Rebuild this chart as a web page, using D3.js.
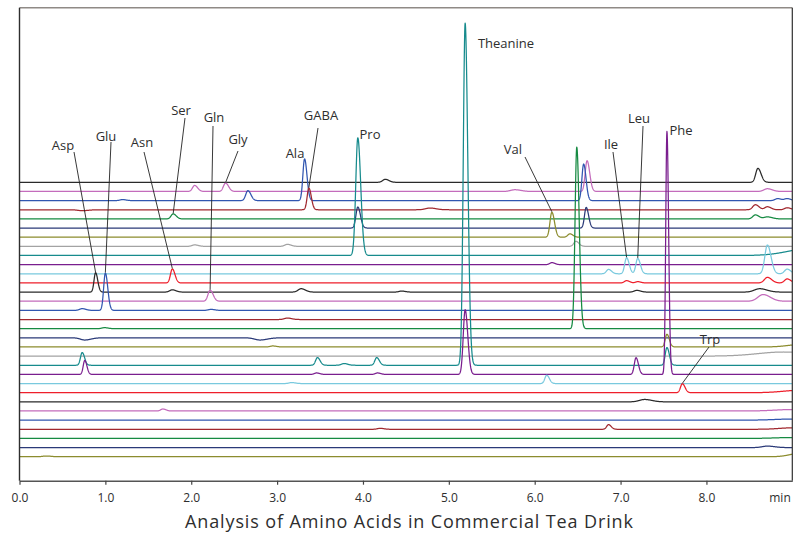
<!DOCTYPE html>
<html>
<head>
<meta charset="utf-8">
<script src="https://cdn.jsdelivr.net/npm/d3@7"></script>
<style>
  body { margin: 0; background: #fff; }
  svg { display: block; }
  text { font-family: "Open Sans", "Noto Sans", sans-serif; fill: #2e2e2e; }
</style>
</head>
<body>
<svg id="chart" width="793" height="537"></svg>
<script>
// Retention-time axis
const timeTicks = [0, 1, 2, 3, 4, 5, 6, 7, 8];
const timeUnit = "min";
const chartTitle = "Analysis of Amino Acids in Commercial Tea Drink";

// Each chromatogram is stacked 10 signal units above the next one
const traceStep = 10;

// Line colours, repeating down the stack
const palette = ["#2a2a2a", "#c46cbc", "#3156b0", "#a1282f", "#168a42", "#2b3a78",
                 "#8c8c2e", "#a3a3a3", "#178b8d", "#7a1e8e", "#79c9de", "#ee1f2b"];

// Peak tables per chromatogram (top to bottom): [retention time (min), height, sigma (min)]
const tracePeaks = [
  [[4.26, 3.3, 0.03], [8.60, 15.3, 0.026]],
  [[2.04, 6.6, 0.025], [2.40, 9.2, 0.025], [5.77, 1.9, 0.05], [6.61, 33.6, 0.022], [8.71, 3.0, 0.04]],
  [[1.20, 1.1, 0.03], [2.66, 10.9, 0.025], [3.32, 45.6, 0.02], [6.57, 40.0, 0.02], [8.83, 2.2, 0.03], [8.94, 2.2, 0.03]],
  [[0.73, -1.0, 0.05], [3.37, 23.7, 0.02], [4.78, 1.9, 0.05], [8.57, 5.5, 0.03], [8.71, 3.3, 0.03], [8.94, 2.2, 0.03]],
  [[1.79, 5.5, 0.025], [8.57, 4.4, 0.03], [8.71, 2.2, 0.04]],
  [[3.94, 23.0, 0.022], [6.60, 22.6, 0.02]],
  [[6.20, 27.3, 0.022], [6.41, 3.7, 0.025]],
  [[2.04, 1.6, 0.03], [3.12, 2.2, 0.03], [6.48, 5.5, 0.025]],
  [[3.94, 128.7, 0.024], [9.20, 7.5, 0.25]],
  [[6.20, 2.2, 0.025]],
  [[6.86, 4.8, 0.025], [7.07, 17.5, 0.022], [7.20, 16.8, 0.022], [8.71, 31.4, 0.03], [8.94, 5.1, 0.03]],
  [[1.78, 15.3, 0.022], [7.07, 2.5, 0.025], [7.20, 1.4, 0.025], [8.71, 6.1, 0.035], [8.94, 4.4, 0.03]],
  [[0.886, 21.2, 0.018], [1.78, 2.5, 0.03], [3.28, 3.7, 0.035], [4.45, 1.1, 0.03], [7.19, 1.9, 0.03], [8.62, 3.7, 0.06]],
  [[2.22, 12.0, 0.025], [8.66, 7.3, 0.06]],
  [[0.73, 1.9, 0.03], [1.00, 40.8, 0.02], [2.23, 1.1, 0.03]],
  [[3.12, 1.6, 0.035]],
  [[0.99, 1.1, 0.03], [6.49, 198.5, 0.02]],
  [[0.76, -2.4, 0.05], [2.80, -2.4, 0.06]],
  [[2.95, 1.1, 0.03], [7.54, 13.9, 0.02], [9.10, 2.7, 0.15]],
  [[8.90, 4.5, 0.3]],
  [[0.73, 13.9, 0.02], [3.47, 8.4, 0.022], [3.78, 1.9, 0.03], [4.16, 8.4, 0.022], [5.19, 374.0, 0.022], [7.54, 19.4, 0.02]],
  [[0.76, 15.3, 0.018], [3.46, 1.6, 0.025], [4.17, 1.6, 0.025], [5.19, 70.7, 0.022], [7.18, 18.3, 0.02], [7.54, 265.6, 0.014]],
  [[3.17, 1.1, 0.03], [6.14, 9.1, 0.022]],
  [[7.72, 9.8, 0.022], [9.10, 2.7, 0.2]],
  [[7.28, 2.6, 0.06]],
  [[1.67, 2.2, 0.025], [9.00, 1.6, 0.2]],
  [[9.00, 1.2, 0.2]],
  [[4.20, 1.1, 0.03], [6.86, 5.1, 0.022], [9.00, 1.6, 0.15]],
  [[9.00, 1.0, 0.2]],
  [[8.71, 1.6, 0.06]],
  [[0.31, 0.8, 0.04], [9.10, 4.0, 0.12]]
];

// Identified amino acids: name, chromatogram index, retention time
const peakNames = ["Asp", "Glu", "Asn", "Ser", "Gln", "Gly", "Ala", "GABA", "Pro",
                   "Theanine", "Val", "Ile", "Leu", "Phe", "Trp"];
const peakTrace = [12, 14, 11, 4, 13, 1, 2, 3, 8, 20, 6, 10, 10, 21, 23];
const peakTimes = [0.886, 1.00, 1.78, 1.79, 2.22, 2.40, 3.32, 3.37, 3.94, 5.19, 6.20, 7.07, 7.20, 7.54, 7.72];

// Label placement in pixels: [text x, text y, leader start x, leader start y] (leader optional)
const labelLayout = [
  [63, 145, 74, 152], [106, 136, 111, 142], [142, 142, 144, 152], [181, 110, 185, 118],
  [214, 117, 213, 126], [238, 139, 238, 151], [295, 153], [321, 115, 318, 128],
  [370, 134], [506, 43], [513, 149, 525, 157], [611, 144, 613, 152],
  [639, 118, 643, 126], [681, 130], [710, 339, 709, 347]
];

const svg = d3.select("#chart");
const nTraces = tracePeaks.length;

const x = d3.scaleLinear().domain([0, 9.0]).range([19.5, 792.3]);
const y = d3.scaleLinear().domain([-26.2, 490.9]).range([480.7, 7.7]);

const tailing = 1.4;
function signal(peaks, t) {
  let s = 0;
  for (const [rt, h, sd] of peaks) {
    const sig = t < rt ? sd : sd * tailing;
    const d = (t - rt) / sig;
    s += h * Math.exp(-0.5 * d * d);
  }
  return s;
}
const offsetOf = i => (nTraces - 1 - i) * traceStep;

const times = d3.range(0, 9.0 + 1e-9, 0.0025);
const line = d3.line().x(d => x(d[0])).y(d => y(d[1]));

svg.append("clipPath").attr("id", "plotClip")
  .append("rect").attr("x", 19.5).attr("y", 7.7).attr("width", 772.8).attr("height", 473);

const traces = svg.append("g").attr("clip-path", "url(#plotClip)")
  .attr("fill", "none").attr("stroke-width", 1.25).attr("stroke-linejoin", "round");

tracePeaks.forEach((peaks, i) => {
  const pts = times.map(t => [t, offsetOf(i) + signal(peaks, t)]);
  traces.append("path")
    .attr("d", line(pts))
    .attr("stroke", palette[i % palette.length]);
});

// Frame
svg.append("line").attr("x1", 19.5).attr("x2", 792.3).attr("y1", 7.7).attr("y2", 7.7)
  .attr("stroke", "#8f8a86").attr("stroke-width", 1.6);
svg.append("line").attr("x1", 19.5).attr("x2", 19.5).attr("y1", 7.7).attr("y2", 480.7)
  .attr("stroke", "#2e2e2e").attr("stroke-width", 1.4);
svg.append("line").attr("x1", 792.3).attr("x2", 792.3).attr("y1", 7.7).attr("y2", 480.7)
  .attr("stroke", "#2e2e2e").attr("stroke-width", 1.2);

// Time axis
const axis = svg.append("g").attr("transform", `translate(0,${y.range()[0]})`)
  .call(d3.axisBottom(x).tickValues(timeTicks).tickFormat(d3.format(".1f"))
    .tickSize(4).tickSizeOuter(0).tickPadding(8.5));
axis.select(".domain").attr("stroke", "#555").attr("stroke-width", 1.4);
axis.selectAll(".tick line").attr("stroke", "#444").attr("stroke-width", 1.2);
axis.selectAll(".tick text").attr("font-size", 12).attr("fill", "#2e2e2e")
  .style("font-family", "'Open Sans', sans-serif");

svg.append("text").attr("x", 780).attr("y", 502).attr("text-anchor", "middle")
  .attr("font-size", 12).text(timeUnit);

// Peak labels with leader lines to the apex
const labels = svg.append("g");
peakNames.forEach((name, k) => {
  const lay = labelLayout[k];
  const i = peakTrace[k];
  const apexX = x(peakTimes[k]);
  const apexY = y(offsetOf(i) + signal(tracePeaks[i], peakTimes[k]));
  if (lay.length > 2) {
    labels.append("line")
      .attr("x1", lay[2]).attr("y1", lay[3])
      .attr("x2", apexX).attr("y2", apexY - 0.5)
      .attr("stroke", "#222").attr("stroke-width", 0.9);
  }
  labels.append("text")
    .attr("x", lay[0]).attr("y", lay[1] + 4.6)
    .attr("text-anchor", "middle").attr("font-size", 13)
    .text(name);
});

// Title
svg.append("text").attr("x", 409).attr("y", 528).attr("text-anchor", "middle")
  .attr("font-size", 18).attr("textLength", 448).attr("lengthAdjust", "spacing")
  .attr("fill", "#333").text(chartTitle);
</script>
</body>
</html>
